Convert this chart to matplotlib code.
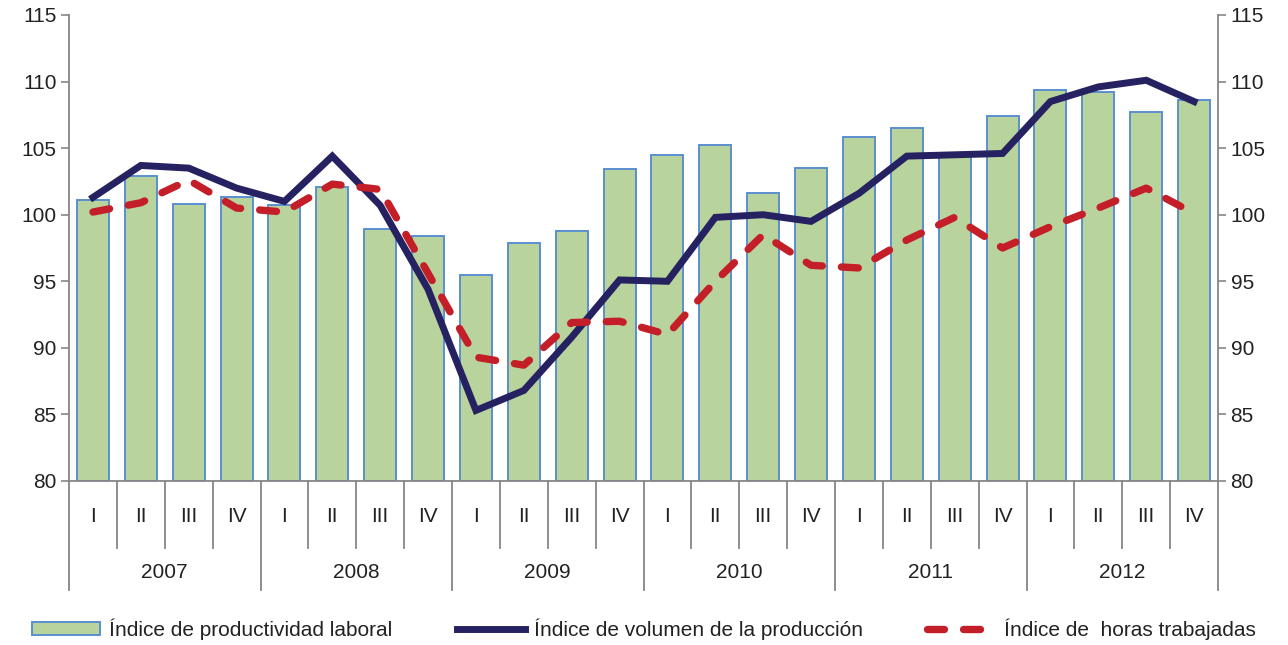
import numpy as np
import matplotlib.pyplot as plt
from matplotlib.patches import Patch
from matplotlib.lines import Line2D
import matplotlib.transforms as mtransforms

plt.rcParams['font.family'] = ['Liberation Sans', 'DejaVu Sans']
plt.rcParams['font.size'] = 15

years = ['2007', '2008', '2009', '2010', '2011', '2012']
quarters = ['I', 'II', 'III', 'IV']

productividad = [101.1, 102.9, 100.8, 101.3, 100.7, 102.1, 98.9, 98.4,
                 95.5, 97.9, 98.8, 103.4, 104.5, 105.2, 101.6, 103.5,
                 105.8, 106.5, 104.4, 107.4, 109.4, 109.2, 107.7, 108.6]
volumen = [101.3, 103.7, 103.5, 102.0, 101.0, 104.4, 100.7, 94.4,
           85.3, 86.8, 90.8, 95.1, 95.0, 99.8, 100.0, 99.5,
           101.6, 104.4, 104.5, 104.6, 108.5, 109.6, 110.1, 108.5]
horas = [100.2, 100.9, 102.6, 100.5, 100.2, 102.3, 101.9, 95.6,
         89.3, 88.7, 91.9, 92.0, 91.0, 95.0, 98.5, 96.2,
         96.0, 98.1, 99.8, 97.5, 99.1, 100.5, 102.0, 100.1]

bar_fill = '#B8D49C'
bar_edge = '#5B8FD0'
navy = '#262262'
red = '#C41F28'
grey = '#868686'
txt = '#222222'

fig = plt.figure(figsize=(12.88, 6.45), dpi=100)
ax = fig.add_axes([69/1288, 1-481/645, (1218-69)/1288, (481-15)/645])

n = len(productividad)
x = np.arange(n)
ax.bar(x, np.array(productividad) - 80, bottom=80, width=0.67,
       color=bar_fill, edgecolor=bar_edge, linewidth=1.4, zorder=2)
ax.plot(x, volumen, color=navy, lw=5.0, zorder=3, solid_joinstyle='miter')
ax.plot(x, horas, color=red, lw=5.3, dashes=(2.3, 2.6),
        dash_capstyle='round', zorder=4)

ax.set_xlim(-0.5, n - 0.5)
ax.set_ylim(80, 115)
ax.set_yticks(range(80, 116, 5))
ax.tick_params(axis='y', which='both', length=6, color=grey, width=1.2,
               labelsize=15, labelcolor=txt, pad=3, right=True, labelright=True)
ax.set_xticks([])
ax.spines['top'].set_visible(False)
for s in ['left', 'right', 'bottom']:
    ax.spines[s].set_color(grey)
    ax.spines[s].set_linewidth(1.3)

# two-level category axis
trans = mtransforms.blended_transform_factory(ax.transData, ax.transAxes)
h = (481 - 15) / 645 * 6.45 * 100  # axes height in px
y_q = -(548 - 481) / h
y_y = -(590 - 481) / h
y_qlab = -(517 - 481) / h
y_ylab = -(573 - 481) / h
for i in range(n + 1):
    bottom = y_y if i % 4 == 0 else y_q
    ax.plot([i - 0.5, i - 0.5], [0, bottom], color=grey, lw=1.3,
            transform=trans, clip_on=False)
for i in range(n):
    ax.text(i, y_qlab, quarters[i % 4], transform=trans, ha='center',
            va='center', fontsize=15, color=txt)
for j, yr in enumerate(years):
    ax.text(4 * j + 1.5, y_ylab, yr, transform=trans, ha='center',
            va='center', fontsize=15, color=txt)

handles = [
    Patch(facecolor=bar_fill, edgecolor=bar_edge, linewidth=1.4),
    Line2D([], [], color=navy, lw=5.0),
    Line2D([], [], color=red, lw=5.3, dashes=(2.3, 2.6), dash_capstyle='round'),
]
labels = ['Índice de productividad laboral',
          'Índice de volumen de la producción',
          'Índice de  horas trabajadas']
fig.legend(handles, labels, loc='center', bbox_to_anchor=(0.5, 1 - 629/645),
           ncol=3, frameon=False, fontsize=15, handlelength=3.3,
           handleheight=0.6, handletextpad=0.4, columnspacing=3.1,
           labelcolor=txt)

fig.savefig('out.png', dpi=100)
